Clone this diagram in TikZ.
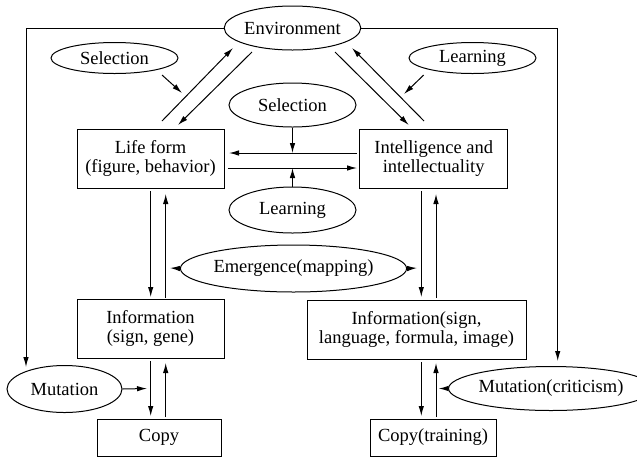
\documentclass[tikz,border=0pt]{standalone}
\usepackage{fontspec}
\setmainfont{Liberation Serif}
\usetikzlibrary{arrows.meta,shapes.geometric}
\tikzset{
  ell/.style={draw,ellipse,inner sep=0pt,line width=1pt},
  box/.style={draw,rectangle,inner sep=0pt,align=center,line width=1pt},
  con/.style={line width=1pt},
  arr/.style={con,-{Latex[length=10pt,width=5.5pt]}}
}
\begin{document}
\begin{tikzpicture}[x=1pt,y=-1pt,font=\fontsize{18.5}{19}\selectfont]
\useasboundingbox (0,0) rectangle (637,459);
% nodes
\node[ell,minimum width=127,minimum height=44] (env) at (292.5,28) {Environment};
\node[ell,minimum width=127,minimum height=31] (sel1) at (114.5,58) {Selection};
\node[ell,minimum width=127,minimum height=31] (lrn1) at (472.5,58) {Learning};
\node[ell,minimum width=127,minimum height=44] (sel2) at (292.5,105) {Selection};
\node[ell,minimum width=127,minimum height=46] (lrn2) at (292.5,210) {Learning};
\node[box,minimum width=147,minimum height=59] (lf) at (150.5,158.5) {Life form\\(figure, behavior)};
\node[box,minimum width=148,minimum height=59] (il) at (433.7,158.5) {Intelligence and\\intellectuality};
\node[ell,minimum width=185,minimum height=47] (emg) at (293.5,268.5) {Emergence(mapping)};
\node[box,minimum width=147,minimum height=59] (infL) at (150.5,328.5) {Information\\(sign, gene)};
\node[box,minimum width=219,minimum height=59] (infR) at (416.5,329.5) {Information(sign,\\language, formula, image)};
\node[ell,minimum width=115,minimum height=47] (mutL) at (64.5,389) {Mutation};
\node[ell,minimum width=169,minimum height=44] (mutR) at (551,388.5) {Mutation(criticism)};
\node[box,minimum width=124,minimum height=37] (copyL) at (159,437.5) {Copy};
\node[box,minimum width=126,minimum height=37] (copyR) at (433,437.5) {Copy(training)};
% coordinates
\coordinate (outL) at (26,367);
\coordinate (outR) at (557.7,361);
\coordinate (dA1) at (162,121); \coordinate (dA2) at (233,48);
\coordinate (dB1) at (252,52);  \coordinate (dB2) at (178,125);
\coordinate (dC1) at (335,52);  \coordinate (dC2) at (408.7,125);
\coordinate (dD1) at (424,121); \coordinate (dD2) at (352,48);
\coordinate (s1s) at (162,75); \coordinate (s1t) at (182,93);
\coordinate (l1s) at (423.7,75); \coordinate (l1t) at (404,94);
\coordinate (hU1) at (357,153); \coordinate (hU2) at (229,153);
\coordinate (hL1) at (228,168); \coordinate (hL2) at (357,168);
% outer lines
\draw[arr] (env.west) -- (26,28) -- (outL);
\draw[arr] (env.east) -- (557.7,28) -- (outR);
% diagonals
\draw[arr] (dA1) -- (dA2);
\draw[arr] (dB1) -- (dB2);
\draw[arr] (dC1) -- (dC2);
\draw[arr] (dD1) -- (dD2);
\draw[arr] (s1s) -- (s1t);
\draw[arr] (l1s) -- (l1t);
% horizontals
\draw[arr] (hU1) -- (hU2);
\draw[arr] (hL1) -- (hL2);
\draw[arr] (sel2.south) -- (sel2.south |- hU1);
\draw[arr] (lrn2.north) -- (lrn2.north |- hL1);
% verticals upper
\draw[arr] (150.7,191) -- (150.7,297);
\draw[arr] (165.7,298) -- (165.7,194);
\draw[arr] (421.3,191) -- (421.3,297);
\draw[arr] (436,298) -- (436,194);
% emergence
\draw[arr] (emg.west) -- (170,268);
\draw[arr] (emg.east) -- (417,268);
% verticals lower
\draw[arr] (150.7,361) -- (150.7,416);
\draw[arr] (165.7,417) -- (165.7,363);
\draw[arr] (421.3,362) -- (421.3,416);
\draw[arr] (436,417) -- (436,363);
% mutations
\draw[arr] (mutL.east) -- (147,388.5);
\draw[arr] (mutR.west) -- (438.7,388.5);
\end{tikzpicture}
\end{document}
